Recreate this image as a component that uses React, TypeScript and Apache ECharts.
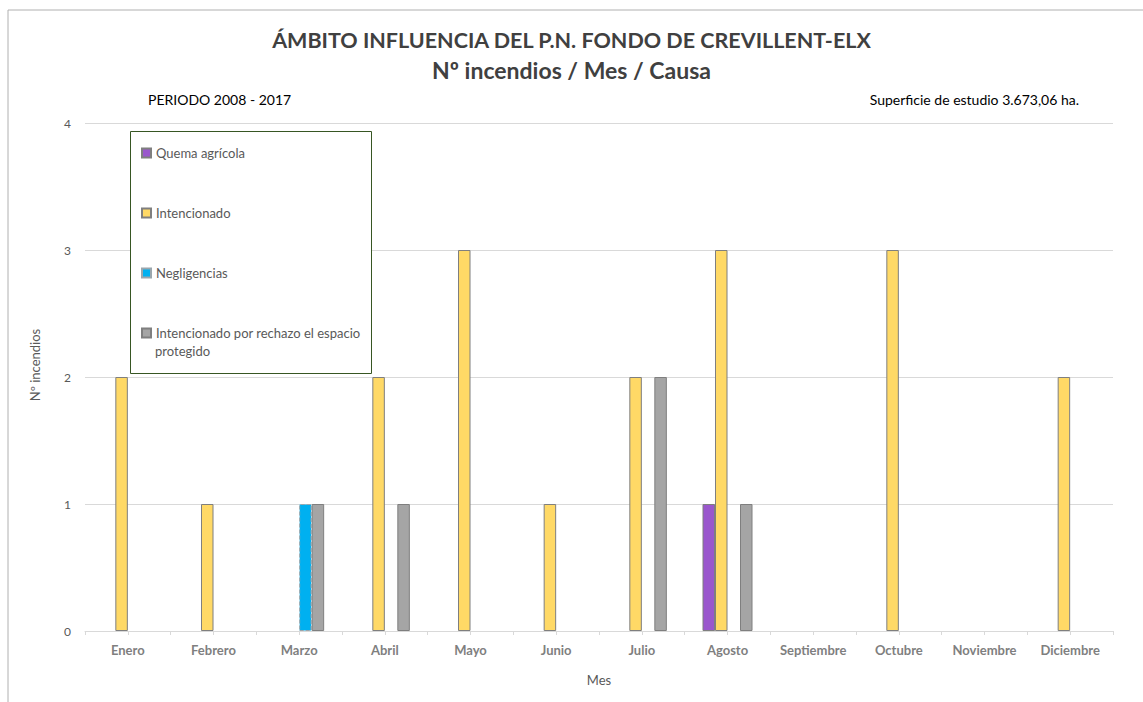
import React, { useEffect, useRef } from "react";
import * as echarts from "echarts";

const months = ["Enero", "Febrero", "Marzo", "Abril", "Mayo", "Junio", "Julio", "Agosto", "Septiembre", "Octubre", "Noviembre", "Diciembre"];
const quemaAgricola = [null, null, null, null, null, null, null, 1, null, null, null, null];
const intencionado = [2, 1, null, 2, 3, 1, 2, 3, null, 3, null, 2];
const negligencias = [null, null, 1, null, null, null, null, null, null, null, null, null];
const rechazo = [null, null, 1, 1, null, null, 2, 1, null, null, null, null];
const yTicks = [0, 1, 2, 3, 4];

const LONG = "Intencionado por rechazo el espacio protegido";
const FONT = "Lato";

export default function App() {
  const ref = useRef<HTMLDivElement>(null);
  useEffect(() => {
    const chart = echarts.init(ref.current!, null, { renderer: "svg" });
    const border = "#7f7f7f";
    const legendCommon = {
      orient: "vertical",
      left: 141,
      padding: 0,
      itemWidth: 9,
      itemHeight: 9,
      icon: "rect",
      z: 10,
      textStyle: { color: "#595959", fontSize: 13, fontFamily: FONT, lineHeight: 14 },
      formatter: (n: string) => (n === LONG ? "Intencionado por rechazo el espacio" : n),
    };
    chart.setOption({
      animation: false,
      textStyle: { fontFamily: FONT },
      title: {
        text: "{a|ÁMBITO INFLUENCIA DEL P.N. FONDO DE CREVILLENT-ELX}\n{b|Nº incendios / Mes / Causa}",
        left: "center",
        top: 20,
        textStyle: {
          rich: {
            a: { fontFamily: FONT, fontSize: 21.5, fontWeight: "bold", color: "#404040", lineHeight: 30 },
            b: { fontFamily: FONT, fontSize: 23, fontWeight: "bold", color: "#404040", lineHeight: 30 },
          },
        },
      },
      graphic: [
        { type: "line", shape: { x1: 8, y1: 10, x2: 1143, y2: 10 }, style: { stroke: "#b0b0b0", lineWidth: 1 } },
        { type: "line", shape: { x1: 8, y1: 10, x2: 8, y2: 702 }, style: { stroke: "#b0b0b0", lineWidth: 1 } },
        { type: "text", x: 148, y: 99, style: { text: "PERIODO 2008 - 2017", fontFamily: FONT, fontSize: 14, fill: "#000", verticalAlign: "middle" } },
        { type: "text", x: 1079, y: 99, style: { text: "Superficie de estudio 3.673,06 ha.", fontFamily: FONT, fontSize: 14, fill: "#000", align: "right", verticalAlign: "middle" } },
        { type: "rect", z: 3, shape: { x: 130.5, y: 131.5, width: 241, height: 242 }, style: { fill: "#fff", stroke: "#375623", lineWidth: 1 } },
        { type: "text", z: 10, x: 155, y: 351, style: { text: "protegido", fontFamily: FONT, fontSize: 13, fill: "#595959", verticalAlign: "middle" } },
        { type: "text", x: 35, y: 365, rotation: Math.PI / 2, style: { text: "Nº incendios", fontFamily: FONT, fontSize: 13, fill: "#595959", align: "center", verticalAlign: "middle" } },
      ],
      legend: [
        { ...legendCommon, top: 146, data: ["Quema agrícola"] },
        { ...legendCommon, top: 206, data: ["Intencionado"] },
        { ...legendCommon, top: 266, data: ["Negligencias"] },
        { ...legendCommon, top: 326, data: [LONG] },
      ],
      grid: { left: 85, right: 30, top: 123, bottom: 71, containLabel: false },
      xAxis: [
        {
          type: "category",
          data: months,
          axisLine: { lineStyle: { color: "#d9d9d9" } },
          axisTick: { show: false },
          axisLabel: { color: "#7f7f7f", fontWeight: "bold", fontSize: 13, margin: 12, interval: 0, fontFamily: FONT },
          name: "Mes",
          nameLocation: "middle",
          nameGap: 42,
          nameTextStyle: { color: "#595959", fontSize: 13, fontFamily: FONT },
        },
        {
          type: "category",
          data: new Array(24).fill(""),
          position: "bottom",
          axisLine: { show: false },
          axisLabel: { show: false },
          axisTick: { show: true, length: 4, lineStyle: { color: "#d9d9d9" } },
        },
      ],
      yAxis: {
        type: "value",
        min: yTicks[0],
        max: yTicks[yTicks.length - 1],
        interval: 1,
        axisLine: { show: false },
        axisTick: { show: false },
        splitLine: { lineStyle: { color: "#d9d9d9" } },
        axisLabel: { color: "#595959", fontSize: 12, margin: 14, fontFamily: FONT },
      },
      series: [
        { name: "Quema agrícola", type: "bar", data: quemaAgricola, barWidth: 12.5, barGap: "0%", itemStyle: { color: "#9a57cd", borderColor: border, borderWidth: 1 } },
        { name: "Intencionado", type: "bar", data: intencionado, barWidth: 12.5, barGap: "0%", itemStyle: { color: "#ffd966", borderColor: border, borderWidth: 1 } },
        { name: "Negligencias", type: "bar", data: negligencias, barWidth: 12.5, barGap: "0%", itemStyle: { color: "#00b0f0", borderColor: "#9aa6ad", borderWidth: 1, borderType: "dashed" } },
        { name: LONG, type: "bar", data: rechazo, barWidth: 12.5, barGap: "0%", itemStyle: { color: "#a5a5a5", borderColor: border, borderWidth: 1 } },
      ],
    });
    return () => chart.dispose();
  }, []);
  return <div ref={ref} style={{ position: "absolute", left: 0, top: 0, width: 1143, height: 702, background: "#fff" }} />;
}
